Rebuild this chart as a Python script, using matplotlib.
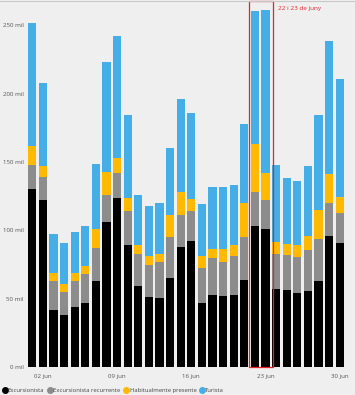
import numpy as np
import matplotlib.pyplot as plt
from matplotlib.patches import Rectangle
from matplotlib.lines import Line2D

plt.rcParams['font.family'] = ['Open Sans', 'DejaVu Sans']

# Visitants per dia, juny (milers)
dies = list(range(1, 31))
excursionista = [130, 122, 42, 38, 44, 47, 63, 106, 123.5, 89.5,
                 59, 51, 50.5, 65, 88, 92, 47, 53, 52, 53,
                 64, 103.5, 101, 57, 56.5, 54, 55.5, 63, 95.5, 90.5]
recurrente = [18, 17, 21, 17, 19, 21, 24, 20, 18.5, 24.5,
              24, 23.5, 26, 30, 23.5, 22, 25.5, 26.5, 24.5, 28.5,
              31, 24.5, 21.5, 26, 25.5, 26.5, 30, 31, 24.5, 22.5]
habitual = [14, 8, 6, 5.5, 6, 6, 14, 16.5, 11, 9.5,
            6.5, 7, 6.5, 16, 16.5, 9, 8.5, 6.5, 9.5, 8,
            25, 35.5, 19.5, 8.5, 8, 8.5, 10, 20.5, 21, 11.5]
turista = [90, 61, 28, 30, 29.5, 29, 47.5, 80.5, 89, 60.5,
           36.5, 36, 37, 49.5, 68, 62.5, 38.5, 46, 46, 44,
           57.5, 97, 119, 56.5, 48.5, 47, 51.5, 69.5, 97.5, 86]
series = ["Excursionista", "Excursionista recurrente", "Habitualmente presente", "Turista"]
colors = ["#000000", "#8c8c8c", "#ffb900", "#45aee6"]
yticks = [0, 50, 100, 150, 200, 250]
xtick_days = [2, 9, 16, 23, 30]

bg = "#efefef"
fig = plt.figure(figsize=(3.55, 3.95), dpi=100, facecolor=bg)
ax = fig.add_axes([27 / 355, 28 / 395, 318 / 355, 367 / 395])
ax.set_facecolor(bg)

x = np.arange(len(dies))
bottom = np.zeros(len(dies))
for vals, col in zip([excursionista, recurrente, habitual, turista], colors):
    ax.bar(x, vals, width=0.78, bottom=bottom, color=col, linewidth=0)
    bottom += np.array(vals)

ax.set_xlim(-0.5, 29.5)
ax.set_ylim(0, 268.5)
ax.set_yticks(yticks)
ax.set_yticklabels([f"{v} mil" for v in yticks])
ax.set_xticks([d - 1 for d in xtick_days])
ax.set_xticklabels([f"{d:02d} jun" for d in xtick_days])
ax.tick_params(axis="both", length=0, labelsize=4.4, labelcolor="#555555")
ax.tick_params(axis="x", pad=5)
ax.tick_params(axis="y", pad=2.5)
for s in ax.spines.values():
    s.set_visible(False)

# recuadre 22 i 23 de juny
i22 = dies.index(22)
ax.add_patch(Rectangle((i22 - 0.52, 0), 2.22, 267.5, fill=False,
                       edgecolor="#e3242b", linewidth=0.9, clip_on=False, zorder=5))
ax.text(i22 + 2.2, 262, "22 i 23 de juny", color="#e3242b", fontsize=4.6,
        ha="left", va="center")

# línia superior del contenidor
fig.add_artist(Line2D([0, 1], [0.997, 0.997], color="#c8c8c8", linewidth=0.8))

handles = [Line2D([], [], marker="o", linestyle="none", markersize=4,
                  markerfacecolor=c, markeredgecolor=c) for c in colors]
leg = fig.legend(handles, series, loc="lower left", bbox_to_anchor=(-0.005, -0.003),
                 ncol=4, frameon=False, fontsize=4.2, handletextpad=0.05,
                 columnspacing=0.5, handlelength=1.0, borderaxespad=0.2)
for t in leg.get_texts():
    t.set_color("#444444")

fig.savefig("out.png", dpi=100, facecolor=bg)
